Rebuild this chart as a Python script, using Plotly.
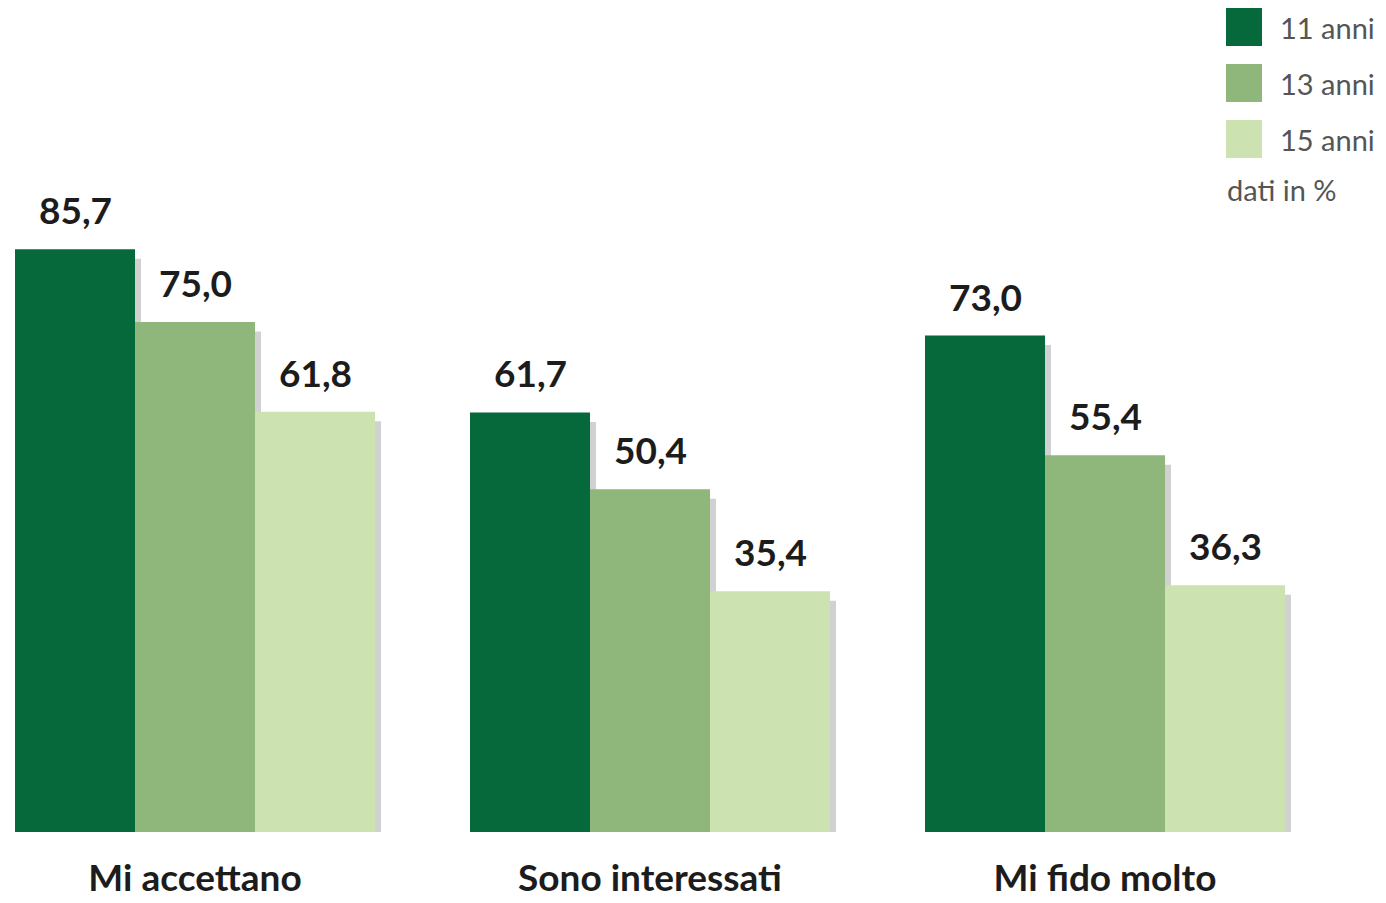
import plotly.graph_objects as go

categories = ["Mi accettano", "Sono interessati", "Mi fido molto"]
series_names = ["11 anni", "13 anni", "15 anni"]
values_11 = [85.7, 61.7, 73.0]
values_13 = [75.0, 50.4, 55.4]
values_15 = [61.8, 35.4, 36.3]
colors = ["#05693b", "#8fb77b", "#cde2b1"]
note = "dati in %"

W, H = 1386, 903
PLOT_H = 832
SCALE = 6.8  # px per unit
CAT_PX = 455
CENTER0 = 195
BAR_W = 120 / CAT_PX

series = [values_11, values_13, values_15]
x_idx = list(range(len(categories)))

fig = go.Figure()
for j, (name, vals, col) in enumerate(zip(series_names, series, colors)):
    off = -1.5 * BAR_W + j * BAR_W
    # soft shadow
    fig.add_trace(go.Bar(
        x=x_idx, y=[v - 0.9 for v in vals], base=-0.5,
        width=BAR_W, offset=off + 6 / CAT_PX,
        marker=dict(color="rgba(140,140,140,0.4)", line=dict(width=0)),
        hoverinfo="skip", showlegend=False,
    ))
for j, (name, vals, col) in enumerate(zip(series_names, series, colors)):
    off = -1.5 * BAR_W + j * BAR_W
    fig.add_trace(go.Bar(
        x=x_idx, y=vals, name=name, width=BAR_W, offset=off,
        marker=dict(color=col, line=dict(width=0)),
        showlegend=False,
    ))
    for xi, v in zip(x_idx, vals):
        fig.add_annotation(
            x=xi + off + BAR_W / 2, y=v, xref="x", yref="y",
            text="<b>" + f"{v:.1f}".replace(".", ",") + "</b>",
            showarrow=False, yanchor="bottom", yshift=15,
            font=dict(family="Lato", size=37, color="#1c1c1c"),
        )

# custom legend (paper coordinates)
def py(p):
    return (PLOT_H - p) / PLOT_H

def px(p):
    return p / W

for j, (name, col) in enumerate(zip(series_names, colors)):
    top = 8 + j * 56
    fig.add_shape(type="rect", xref="paper", yref="paper",
                  x0=px(1226), x1=px(1262), y0=py(top + 38), y1=py(top),
                  fillcolor=col, line=dict(width=0))
    fig.add_annotation(xref="paper", yref="paper", x=px(1278), y=py(top + 19),
                       text=name, showarrow=False, xanchor="left", yanchor="middle",
                       font=dict(family="Lato", size=29, color="#555555"))
fig.add_annotation(xref="paper", yref="paper", x=px(1225), y=py(190),
                   text=note, showarrow=False, xanchor="left", yanchor="middle",
                   font=dict(family="Lato", size=29, color="#555555"))

fig.update_layout(
    width=W, height=H,
    margin=dict(l=0, r=0, t=0, b=H - PLOT_H, autoexpand=False),
    barmode="overlay",
    plot_bgcolor="white", paper_bgcolor="white",
    showlegend=False,
)
fig.update_xaxes(
    tickmode="array", tickvals=x_idx, ticktext=["<b>" + c + "</b>" for c in categories],
    range=[-CENTER0 / CAT_PX, (W - CENTER0) / CAT_PX],
    showgrid=False, zeroline=False, showline=False, ticks="",
    tickfont=dict(family="Lato", size=37, color="#1c1c1c"),
    ticklabelstandoff=21, automargin=False,
)
fig.update_yaxes(
    range=[0, PLOT_H / SCALE], visible=False, showgrid=False, zeroline=False,
)

fig.write_html("out.html", config={"displayModeBar": False},
               post_script="document.body.style.margin='0';document.body.style.overflow='hidden';")
